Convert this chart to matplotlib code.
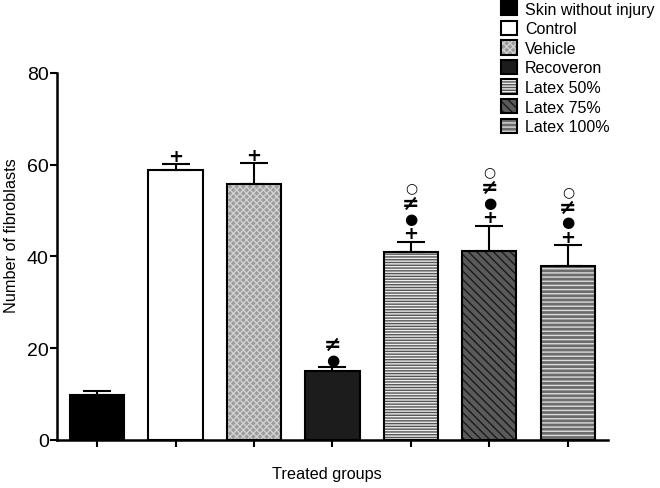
import matplotlib
matplotlib.use('Agg')
import matplotlib.pyplot as plt
from matplotlib.patches import Patch
import numpy as np

plt.rcParams['font.family'] = ['Liberation Sans', 'DejaVu Sans']

groups = ['Skin without injury', 'Control', 'Vehicle', 'Recoveron',
          'Latex 50%', 'Latex 75%', 'Latex 100%']
means = [9.9, 58.9, 55.8, 15.0, 41.0, 41.1, 38.0]
sems = [0.8, 1.2, 4.5, 0.8, 2.2, 5.6, 4.4]
# significance symbols stacked above each error bar, bottom to top
marks = [[], ['+'], ['+'], ['\u25cf', '\u2260'],
         ['+', '\u25cf', '\u2260', '\u25cb'],
         ['+', '\u25cf', '\u2260', '\u25cb'],
         ['+', '\u25cf', '\u2260', '\u25cb']]

# fill colour, hatch, hatch colour for each group
faces = ['black', 'white', '#9c9c9c', '#1c1c1c', '#ececec', '#5a5a5a', '#6c6c6c']
hatches = [None, None, 'xxxxx', None, '------', '\\\\\\\\', '----']
hcolors = ['black', 'white', '#d0d0d0', '#1c1c1c', '#555555', '#1a1a1a', '#dcdcdc']
mark_sizes = {'+': 13, '\u25cf': 11, '\u2260': 15, '\u25cb': 10}

fig = plt.figure(figsize=(6.6, 4.89), dpi=100)
ax = fig.add_axes([0.0864, 0.0982, 0.921 - 0.0864, 0.8487 - 0.0982])

x = np.arange(len(groups))
width = 0.69

handles = []
for i in range(len(groups)):
    ax.bar(x[i], means[i], width, color=faces[i], hatch=hatches[i],
           edgecolor=hcolors[i], linewidth=0, zorder=2)
    ax.bar(x[i], means[i], width, fill=False, edgecolor='black',
           linewidth=1.5, zorder=3)
    ax.errorbar(x[i], means[i], yerr=[[0], [sems[i]]], fmt='none',
                ecolor='black', elinewidth=1.5, capsize=10, capthick=1.5,
                zorder=4)
    top = means[i] + sems[i]
    for k, m in enumerate(marks[i]):
        ax.annotate(m, (x[i], top), xytext=(0, 6 + 11 * k),
                    textcoords='offset points', ha='center', va='center',
                    fontsize=mark_sizes[m], fontweight='bold',
                    family=['DejaVu Sans'])
    h1 = Patch(facecolor=faces[i], hatch=hatches[i], edgecolor=hcolors[i], linewidth=0)
    h2 = Patch(fill=False, edgecolor='black', linewidth=1.5)
    handles.append((h1, h2))

ax.set_xlim(-0.51, 6.51)
ax.set_ylim(0, 80)
ax.set_yticks([0, 20, 40, 60, 80])
ax.set_xticks(x)
ax.set_xticklabels([])
ax.tick_params(axis='y', direction='out', length=5, width=1.5, labelsize=14, pad=1)
ax.tick_params(axis='x', direction='out', length=5, width=1.5)
for s in ['top', 'right']:
    ax.spines[s].set_visible(False)
for s in ['left', 'bottom']:
    ax.spines[s].set_linewidth(1.8)

ax.set_ylabel('Number of fibroblasts', fontsize=11.7)
ax.yaxis.set_label_coords(-0.069, 0.56)
ax.set_xlabel('Treated groups', fontsize=11.7)
ax.xaxis.set_label_coords(0.49, -0.072)

fig.legend(handles, groups, loc='upper left', bbox_to_anchor=(501 / 660, 1 - 2 / 489),
           frameon=False, fontsize=11.5, handlelength=1.0, handleheight=1.0,
           handletextpad=0.5, labelspacing=0.25, borderpad=0, borderaxespad=0)

fig.savefig('out.png', dpi=100)
